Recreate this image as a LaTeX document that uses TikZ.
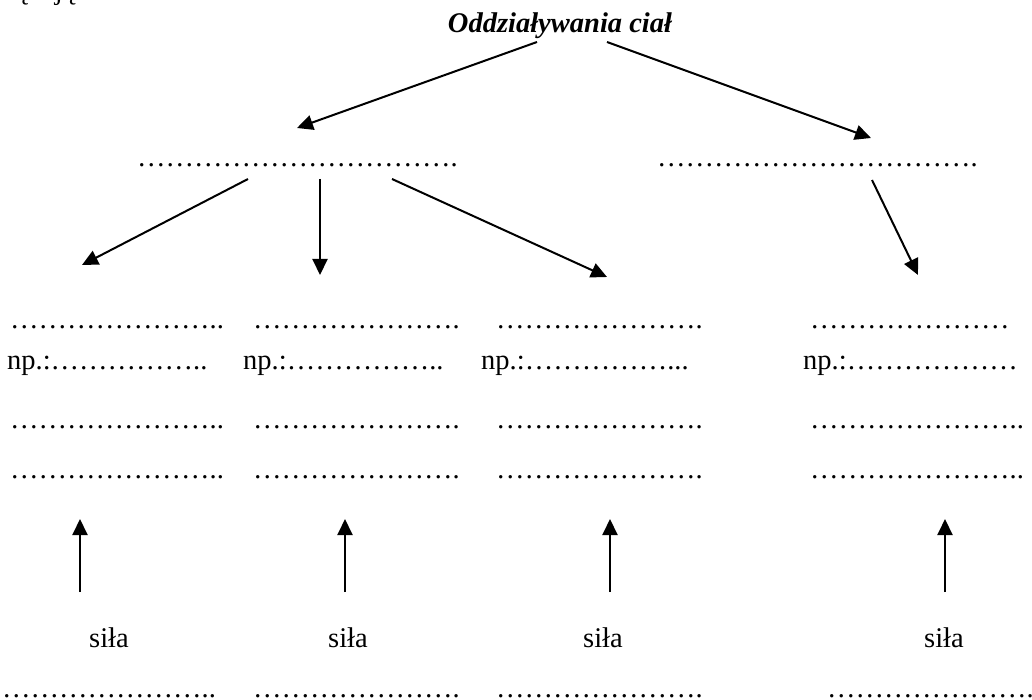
\documentclass[tikz,border=0pt]{standalone}
\usepackage{fontspec}
\setmainfont{Liberation Serif}
\usetikzlibrary{arrows.meta}
% repeated ellipsis characters for the blank lines
\newcount\ellcnt
\newcommand\Ell[1]{\ellcnt=0 \loop\ifnum\ellcnt<#1 …\advance\ellcnt 1 \repeat}
\begin{document}
\begin{tikzpicture}[x=1pt,y=-1pt,
  txt/.style={inner sep=0pt, anchor=base west, font=\fontsize{28.5}{34}\selectfont},
  ttl/.style={inner sep=0pt, anchor=base, font=\fontsize{28.5}{34}\selectfont\bfseries\itshape},
  arr/.style={line width=2pt, -{Triangle[length=16pt,width=15pt]}}]
\useasboundingbox (0,0) rectangle (1032,700);

% end of the preceding line of text, cut by the page edge
\node[txt] (prev) at (15,-0.5) {ązują};

% title
\node[ttl] (title) at (560,33) {Oddziaływania ciał};

% second level
\node[txt] (lvlL) at (137,167) {\Ell{11}.};
\node[txt] (lvlR) at (657,167) {\Ell{11}.};

% columns: four lines each
\node[txt] (c1a) at (10,328) {\Ell{7}..};
\node[txt] (c1b) at (7,369) {np.:\Ell{5}..};
\node[txt] (c1c) at (10,428) {\Ell{7}..};
\node[txt] (c1d) at (10,478) {\Ell{7}..};

\node[txt] (c2a) at (253,328) {\Ell{7}.};
\node[txt] (c2b) at (243,369) {np.:\Ell{5}..};
\node[txt] (c2c) at (253,428) {\Ell{7}.};
\node[txt] (c2d) at (253,478) {\Ell{7}.};

\node[txt] (c3a) at (496,328) {\Ell{7}.};
\node[txt] (c3b) at (481,369) {np.:\Ell{5}...};
\node[txt] (c3c) at (496,428) {\Ell{7}.};
\node[txt] (c3d) at (496,478) {\Ell{7}.};

\node[txt] (c4a) at (810,328) {\Ell{7}};
\node[txt] (c4b) at (803,369) {np.:\Ell{6}};
\node[txt] (c4c) at (810,428) {\Ell{7}..};
\node[txt] (c4d) at (810,478) {\Ell{7}..};

% force labels
\node[txt] (s1) at (89,647) {siła};
\node[txt] (s2) at (328,647) {siła};
\node[txt] (s3) at (583,647) {siła};
\node[txt] (s4) at (924,647) {siła};

\node[txt] (f1) at (2,697) {\Ell{7}..};
\node[txt] (f2) at (253,697) {\Ell{7}.};
\node[txt] (f3) at (496,697) {\Ell{7}.};
\node[txt] (f4) at (827,697) {\Ell{7}.};

% arrow end points
\coordinate (tL) at (537,42);  \coordinate (hL) at (297,128);
\coordinate (tR) at (607,42);  \coordinate (hR) at (871,138);
\coordinate (l1) at (248,179); \coordinate (k1) at (82,265);
\coordinate (l2) at (320,179); \coordinate (k2) at (320,275);
\coordinate (l3) at (392,179); \coordinate (k3) at (607,277);
\coordinate (l4) at (872,180); \coordinate (k4) at (918,275);
\coordinate (u1) at (80,592);  \coordinate (v1) at (80,519);
\coordinate (u2) at (345,592); \coordinate (v2) at (345,519);
\coordinate (u3) at (610,592); \coordinate (v3) at (610,519);
\coordinate (u4) at (945,592); \coordinate (v4) at (945,519);

\draw[arr] (tL) -- (hL);
\draw[arr] (tR) -- (hR);
\draw[arr] (l1) -- (k1);
\draw[arr] (l2) -- (k2);
\draw[arr] (l3) -- (k3);
\draw[arr] (l4) -- (k4);
\draw[arr] (u1) -- (v1);
\draw[arr] (u2) -- (v2);
\draw[arr] (u3) -- (v3);
\draw[arr] (u4) -- (v4);
\end{tikzpicture}
\end{document}
